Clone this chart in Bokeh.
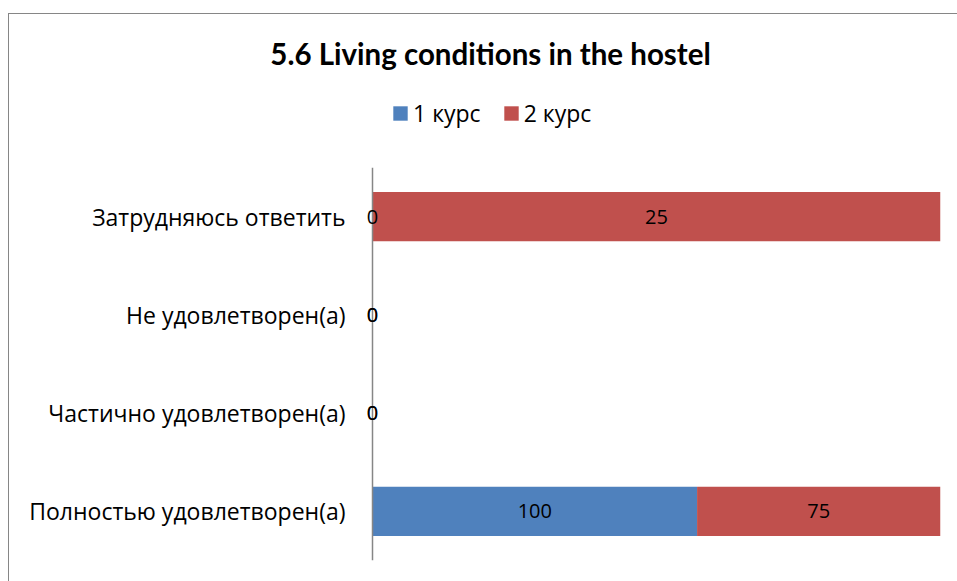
from bokeh.plotting import figure
from bokeh.layouts import column
from bokeh.models import (ColumnDataSource, Legend, LegendItem, Label, LabelSet,
                          FactorRange, Range1d, Span)
from bokeh.core.properties import value
from bokeh.embed import file_html
from bokeh.resources import INLINE

categories = ["Полностью удовлетворен(а)", "Частично удовлетворен(а)",
              "Не удовлетворен(а)", "Затрудняюсь ответить"]
series_names = ["1 курс", "2 курс"]
kurs1 = [100, 0, 0, 0]
kurs2 = [75, 0, 0, 25]
colors = ["#4F81BD", "#C0504D"]
title_text = "5.6 Living conditions in the hostel"

FONT = "Open Sans"

totals = [a + b for a, b in zip(kurs1, kurs2)]
s1 = [a / t if t else 0 for a, t in zip(kurs1, totals)]
s2 = [b / t if t else 0 for b, t in zip(kurs2, totals)]

src1 = ColumnDataSource(dict(cat=categories, left=[0] * len(s1), right=s1,
                             mid=[v / 2 for v in s1], lab=[str(v) for v in kurs1]))
src2 = ColumnDataSource(dict(cat=categories, left=s1, right=[a + b for a, b in zip(s1, s2)],
                             mid=[a + b / 2 for a, b in zip(s1, s2)], lab=[str(v) for v in kurs2]))

W = 948
HH = 153   # header height (title + legend)
HM = 414   # main chart height

# ---- header: title and legend ----
hdr = figure(width=W, height=HH, x_range=Range1d(0, W), y_range=Range1d(0, HH),
             output_backend="svg", toolbar_location=None,
             x_axis_location=None, y_axis_location=None,
             min_border_left=0, min_border_right=0, min_border_top=0, min_border_bottom=0)
hdr.outline_line_color = None
hdr.xgrid.visible = False
hdr.ygrid.visible = False

# zero-size swatches that only feed the legend
h1 = hdr.hbar(y="y", left="left", right="right", height=1,
              source=ColumnDataSource(dict(y=[0], left=[0], right=[0])),
              fill_color=colors[0], line_color=None)
h2 = hdr.hbar(y="y", left="left", right="right", height=1,
              source=ColumnDataSource(dict(y=[0], left=[0], right=[0])),
              fill_color=colors[1], line_color=None)

hdr.add_layout(Label(x=481, y=114, text=title_text, text_align="center",
                     text_baseline="middle", text_font="Lato", text_font_style="bold",
                     text_font_size="29.5px", text_color="#000000"))

legend = Legend(items=[LegendItem(label=series_names[0], renderers=[h1]),
                       LegendItem(label=series_names[1], renderers=[h2])],
                orientation="horizontal", location=(382, 38),
                glyph_width=18, glyph_height=18, label_standoff=4, spacing=21,
                padding=0, margin=0, border_line_color=None, background_fill_alpha=0,
                label_text_font=FONT, label_text_font_size="23px", label_height=24,
                label_text_color="#000000")
hdr.add_layout(legend)

# ---- main chart ----
PAD = 10 / 568  # small room left of zero so the "0" labels are not clipped
p = figure(width=W, height=HM, y_range=FactorRange(factors=categories),
           x_range=Range1d(-PAD, 1),
           output_backend="svg", toolbar_location=None, x_axis_location=None,
           min_border_left=353, min_border_right=17, min_border_top=0, min_border_bottom=21)
p.outline_line_color = None
p.xgrid.visible = False
p.ygrid.visible = False

p.hbar(y="cat", left="left", right="right", height=0.5, source=src1,
       fill_color=colors[0], line_color=None)
p.hbar(y="cat", left="left", right="right", height=0.5, source=src2,
       fill_color=colors[1], line_color=None)

# category axis line drawn at x = 0
p.add_layout(Span(location=0, dimension="height", line_color="#868686", line_width=1.5))

for s in (src1, src2):
    p.add_layout(LabelSet(x="mid", y="cat", text="lab", source=s, text_align="center",
                          text_baseline="middle", text_font=value(FONT), text_font_size="20px",
                          text_color="#000000"))

ax = p.yaxis[0]
ax.axis_line_color = None
ax.major_tick_line_color = None
ax.minor_tick_line_color = None
ax.major_label_standoff = 11
ax.major_label_text_font = FONT
ax.major_label_text_font_size = "23px"
ax.major_label_text_color = "#000000"

for fig in (hdr, p):
    try:
        fig.frame_align = False
    except Exception:
        pass

layout = column(hdr, p, spacing=0, margin=(13, 0, 0, 8),
                styles={"border-left": "1px solid #868686", "border-top": "1px solid #868686"})

open("out.html", "w").write(file_html(layout, INLINE))
